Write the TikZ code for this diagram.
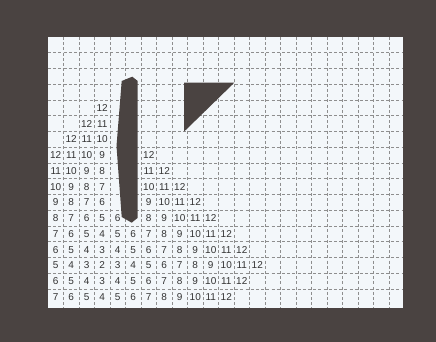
\documentclass[tikz,border=0pt]{standalone}
\usepackage{fontspec}
\setmainfont{Liberation Sans}
\definecolor{framegray}{HTML}{4A4341}
\definecolor{paneblue}{HTML}{F3F7FA}
\definecolor{gridgray}{HTML}{8E8E8E}
\definecolor{digitgray}{HTML}{333333}

\begin{document}
\begin{tikzpicture}[x=1pt,y=-1pt,
  gridline/.style={gridgray,line width=0.55pt,dash pattern=on 3pt off 2.2pt},
  cost/.style={font=\fontsize{10}{11}\selectfont,text=digitgray,inner sep=0pt},
  wall/.style={fill=framegray,draw=none}]
  % frame and pane
  \fill[framegray] (0,0) rectangle (436,342);
  \fill[paneblue] (48,37) rectangle (403,307.5);
  % dashed grid
  \foreach \k in {1,...,22} \draw[gridline] ({48+15.5*\k},37) -- ({48+15.5*\k},307.5);
  \foreach \k in {1,...,16} \draw[gridline] (48,{37+15.75*\k}) -- (403,{37+15.75*\k});
  % obstacles
  \fill[wall] (132.3,76.7) -- (137.7,81) -- (137.5,218) -- (131.7,222.7)
    -- (121.7,217) -- (116.5,146) -- (121.7,81) -- cycle;
  \fill[wall] (184,82.7) -- (234.3,82.7) -- (184,131.7) -- cycle;
  % cost values: row / first column / values
  \foreach \r/\c/\vals in {4/3/{12}, 5/2/{12,11}, 6/1/{12,11,10},
      7/0/{12,11,10,9}, 7/6/{12},
      8/0/{11,10,9,8}, 8/6/{11,12},
      9/0/{10,9,8,7}, 9/6/{10,11,12},
      10/0/{9,8,7,6}, 10/6/{9,10,11,12},
      11/0/{8,7,6,5,6}, 11/6/{8,9,10,11,12},
      12/0/{7,6,5,4,5,6,7,8,9,10,11,12},
      13/0/{6,5,4,3,4,5,6,7,8,9,10,11,12},
      14/0/{5,4,3,2,3,4,5,6,7,8,9,10,11,12},
      15/0/{6,5,4,3,4,5,6,7,8,9,10,11,12},
      16/0/{7,6,5,4,5,6,7,8,9,10,11,12}}
    \foreach \v [count=\i from \c] in \vals
      \node[cost] (v\r-\i) at ({48+15.5*(\i+0.5)},{37+15.75*(\r+0.5)}) {\v};
\end{tikzpicture}
\end{document}
